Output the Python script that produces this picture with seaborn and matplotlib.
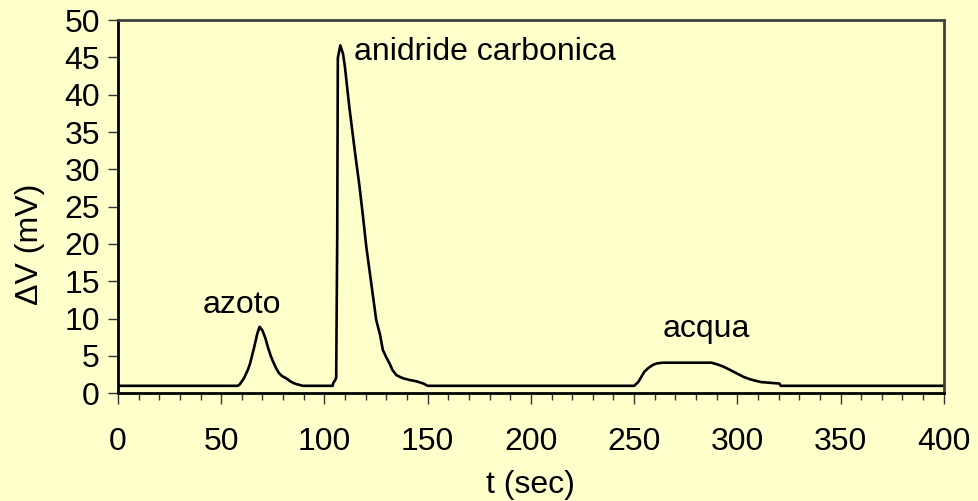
import numpy as np
import pandas as pd
import matplotlib
matplotlib.use("Agg")
import matplotlib.pyplot as plt
import seaborn as sns
from matplotlib.ticker import MultipleLocator

# Data
t_sec = [0, 58, 59, 61, 63, 64, 66, 67.5, 68.6, 70, 71.5, 72.6, 74, 75.5, 76.7,
         78, 79.5, 81.5, 83.5, 85.6, 87.5, 89.6, 104, 104.3, 105.3, 105.7,
         106.2, 106.5, 107.7, 109, 109.9, 112, 114.8, 117, 118.8, 120.3,
         122.8, 125.1, 126.9, 128.3, 130, 131.7, 133, 134.8, 136.5, 138.2,
         141, 144.6, 148, 150, 250, 252, 255, 257, 259.1, 261, 263.9, 287.4,
         290, 293, 296, 299.5, 303, 305.9, 308.5, 311.6, 320.4, 321, 400]
dv_mv = [1.0, 1.0, 1.2, 2.0, 3.2, 4.0, 6.2, 8.0, 8.9, 8.4, 7.3, 6.2, 5.0, 4.0, 3.3,
         2.7, 2.3, 2.0, 1.6, 1.3, 1.15, 1.0, 1.0, 1.4, 1.8, 2.1,
         20.7, 44.9, 46.6, 45.5, 43.8, 38.5, 32.3, 27.7, 23.4, 19.6,
         14.5, 9.8, 7.9, 5.8, 4.8, 3.9, 3.1, 2.45, 2.2, 2.0,
         1.8, 1.6, 1.3, 1.0, 1.0, 1.5, 2.9, 3.4, 3.8, 4.0, 4.1, 4.1,
         3.9, 3.6, 3.2, 2.7, 2.2, 1.9, 1.7, 1.5, 1.3, 1.0, 1.0]

peak_names = ["azoto", "anidride carbonica", "acqua"]
peak_label_t = [59.9, 114.1, 285.0]
peak_label_dv = [10.7, 44.6, 7.6]
peak_label_ha = ["center", "left", "center"]

df = pd.DataFrame({"t": t_sec, "dv": dv_mv})

bg = "#FFFFCC"
fs = 23
sns.set_style("white")
plt.rcParams["font.family"] = ["Liberation Sans", "DejaVu Sans"]
plt.rcParams["text.color"] = "black"
plt.rcParams["axes.labelcolor"] = "black"
plt.rcParams["xtick.color"] = "black"
plt.rcParams["ytick.color"] = "black"

fig = plt.figure(figsize=(9.79, 5.01), dpi=100, facecolor=bg)
ax = fig.add_axes([0.1205, 0.215, 0.8435, 0.745])
ax.set_facecolor(bg)

sns.lineplot(data=df, x="t", y="dv", color="black", linewidth=1.9, ax=ax)

# peak labels
for name, tx, ty, ha in zip(peak_names, peak_label_t, peak_label_dv, peak_label_ha):
    ax.text(tx, ty, name, ha=ha, va="baseline", fontsize=fs, color="black")

ax.set_xlim(0, 400)
ax.set_ylim(0, 50)
ax.xaxis.set_major_locator(MultipleLocator(50))
ax.xaxis.set_minor_locator(MultipleLocator(10))
ax.yaxis.set_major_locator(MultipleLocator(5))

ax.tick_params(axis="x", which="major", direction="out", length=8, width=1,
               pad=16, labelsize=fs, color="#333333", labelcolor="black", bottom=True)
ax.tick_params(axis="x", which="minor", direction="out", length=5, width=1,
               color="#333333", bottom=True)
ax.tick_params(axis="y", which="major", direction="out", length=7, width=1,
               pad=6, labelsize=fs, color="#333333", labelcolor="black", left=True)

# spines like the old spreadsheet chart
ax.spines["left"].set_color("black")
ax.spines["left"].set_linewidth(2)
ax.spines["bottom"].set_color("black")
ax.spines["bottom"].set_linewidth(2)
ax.spines["top"].set_color("#404040")
ax.spines["top"].set_linewidth(2)
ax.spines["right"].set_color("#404040")
ax.spines["right"].set_linewidth(2)

ax.set_xlabel("t (sec)", fontsize=fs, va="top", color="black")
ax.xaxis.set_label_coords(0.5, -0.205)
ax.set_ylabel("ΔV (mV)", fontsize=fs, va="center", color="black")
ax.yaxis.set_label_coords(-0.107, 0.40)

fig.savefig("out.png", dpi=100, facecolor=bg)
